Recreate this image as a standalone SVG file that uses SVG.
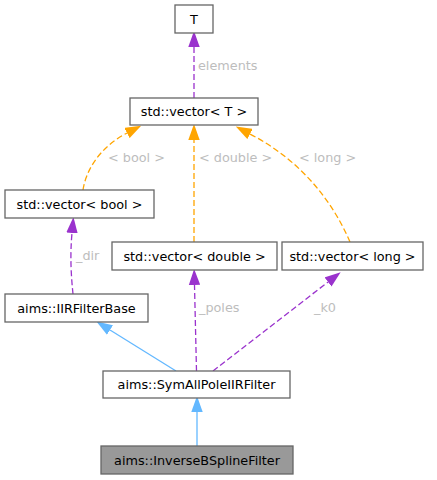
<svg xmlns="http://www.w3.org/2000/svg" width="437" height="480" viewBox="0 0 437 480">
<style>
.box{fill:#ffffff;stroke:#666666;stroke-width:1.3}
.sel{fill:#999999;stroke:#666666;stroke-width:1.3}
.nt{font-family:"DejaVu Sans","Liberation Sans",sans-serif;font-size:12.8px;fill:#000000;text-anchor:middle}
.lb{font-family:"DejaVu Sans","Liberation Sans",sans-serif;font-size:12.8px;fill:#bdbdbd}
.use{fill:none;stroke:#9a32cd;stroke-width:1.3;stroke-dasharray:6,3}
.tpl{fill:none;stroke:#ffa500;stroke-width:1.3;stroke-dasharray:6,3}
.inh{fill:none;stroke:#63b8ff;stroke-width:1.3}
</style>
<defs>
<marker id="aP" markerUnits="userSpaceOnUse" markerWidth="16" markerHeight="12" refX="0" refY="5" orient="auto" viewBox="0 0 14 10"><path d="M0,0 L14,5 L0,10 z" fill="#9a32cd"/></marker>
<marker id="aO" markerUnits="userSpaceOnUse" markerWidth="16" markerHeight="12" refX="0" refY="5" orient="auto" viewBox="0 0 14 10"><path d="M0,0 L14,5 L0,10 z" fill="#ffa500"/></marker>
<marker id="aB" markerUnits="userSpaceOnUse" markerWidth="16" markerHeight="12" refX="0" refY="5" orient="auto" viewBox="0 0 14 10"><path d="M0,0 L14,5 L0,10 z" fill="#63b8ff"/></marker>
</defs>
<g id="edges">
<path class="use" d="M194,98 L194,47" marker-end="url(#aP)"/>
<text class="lb" x="198" y="69.5">elements</text>
<path class="tpl" d="M83,190 C86,170 100,147 127,133" marker-end="url(#aO)"/>
<text class="lb" x="108" y="162">&lt; bool &gt;</text>
<path class="tpl" d="M194,242 L194,140" marker-end="url(#aO)"/>
<text class="lb" x="199" y="162">&lt; double &gt;</text>
<path class="tpl" d="M350,242 C332,200 300,160 250,134" marker-end="url(#aO)"/>
<text class="lb" x="299" y="162">&lt; long &gt;</text>
<path class="use" d="M73,294 C71,275 70,255 72,233" marker-end="url(#aP)"/>
<text class="lb" x="76" y="260">_dir</text>
<path class="inh" d="M176,371 L110,330" marker-end="url(#aB)"/>
<path class="use" d="M196.5,371 L194.5,285" marker-end="url(#aP)"/>
<text class="lb" x="199" y="312">_poles</text>
<path class="use" d="M213,371 L328,282" marker-end="url(#aP)"/>
<text class="lb" x="314" y="312">_k0</text>
<path class="inh" d="M197,446 L197,412" marker-end="url(#aB)"/>
</g>
<g id="node_T"><rect class="box" x="175" y="5" width="38" height="28"/><text class="nt" x="194" y="23.5">T</text></g>
<g id="node_vecT"><rect class="box" x="130" y="98" width="128" height="27"/><text class="nt" x="194" y="116">std::vector&lt; T &gt;</text></g>
<g id="node_vecBool"><rect class="box" x="5" y="190" width="149" height="28"/><text class="nt" x="79.5" y="208.5">std::vector&lt; bool &gt;</text></g>
<g id="node_vecDouble"><rect class="box" x="112" y="242" width="165" height="28"/><text class="nt" x="194.5" y="260.5">std::vector&lt; double &gt;</text></g>
<g id="node_vecLong"><rect class="box" x="282" y="242" width="141" height="28"/><text class="nt" x="352.5" y="260.5">std::vector&lt; long &gt;</text></g>
<g id="node_IIRFilterBase"><rect class="box" x="5" y="294" width="143" height="28"/><text class="nt" x="76.5" y="312.5">aims::IIRFilterBase</text></g>
<g id="node_SymAllPole"><rect class="box" x="103" y="371" width="187" height="27"/><text class="nt" x="196.5" y="389">aims::SymAllPoleIIRFilter</text></g>
<g id="node_InverseBSpline"><rect class="sel" x="101" y="446" width="192" height="28"/><text class="nt" x="197" y="464.5">aims::InverseBSplineFilter</text></g>
</svg>
